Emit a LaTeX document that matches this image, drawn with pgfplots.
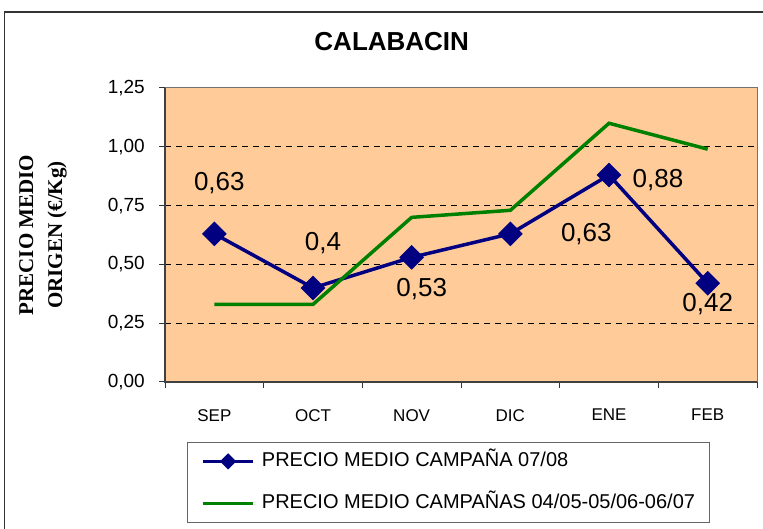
\documentclass[border=0pt]{standalone}
\usepackage{fontspec}
\setmainfont{Liberation Sans}
\newfontfamily\timesfont{Liberation Serif}
\usepackage{pgfplots}
\usepackage{pgfplotstable}
\pgfplotsset{compat=1.18}
\definecolor{navyb}{RGB}{0,0,128}
\definecolor{greenl}{RGB}{0,128,0}
\definecolor{plotbg}{RGB}{255,204,153}

\pgfplotstableread{
x y lbl dx dy
0 0.63 0,63 5 51
1 0.40 0,4 10 45
2 0.53 0,53 10 -32
3 0.63 0,63 76 0
4 0.88 0,88 49 -5
5 0.42 0,42 0 -21
}\bluedata

\pgfplotstableread{
x y
0 0.33
1 0.33
2 0.70
3 0.73
4 1.10
5 0.99
}\greendata

\begin{document}
\begin{tikzpicture}
\useasboundingbox (0pt,0pt) rectangle (763pt,529pt);
\draw[line width=1.5pt, black!80] (4.5pt,-10pt) -- (4.5pt,517pt) -- (780pt,517pt);
\begin{axis}[
  at={(165pt,147pt)}, anchor=south west,
  scale only axis, width=592pt, height=294pt,
  xmin=-0.5, xmax=5.5, ymin=0, ymax=1.25,
  axis background/.style={fill=plotbg},
  axis line style={draw=black!55, line width=1pt},
  tick align=outside,
  xtick pos=bottom, ytick pos=left,
  xtick={0,1,2,3,4,5},
  xticklabels={SEP,OCT,NOV,DIC,ENE,FEB},
  major x tick style={draw=none},
  minor xtick={-0.5,0.5,1.5,2.5,3.5,4.5,5.5},
  minor tick length=6pt,
  major tick length=6pt,
  minor x tick style={draw=black!80, line width=1pt},
  major y tick style={draw=black!80, line width=1pt},
  ytick={0,0.25,0.5,0.75,1,1.25},
  extra y ticks={0.25,0.5,0.75,1},
  extra y tick labels={},
  extra y tick style={grid=major, major grid style={draw=black, line width=0.9pt, dash pattern=on 6pt off 5pt}},
  /pgf/number format/assume math mode=true,
  yticklabel style={/pgf/number format/.cd, fixed, fixed zerofill, precision=2, use comma,
     /tikz/.cd, font=\fontsize{19}{21}\selectfont, inner sep=0pt, anchor=east, xshift=-14pt},
  xticklabel style={font=\fontsize{17}{19}\selectfont, inner sep=0pt, anchor=north, yshift=-21pt},
  title={CALABACIN},
  title style={at={(axis description cs:0.383,1.139)}, anchor=center, font=\bfseries\fontsize{26}{30}\selectfont},
  ylabel={PRECIO MEDIO\\ORIGEN (€/Kg)},
  ylabel style={at={(axis description cs:-0.206,0.5)}, anchor=center, align=center,
     font=\timesfont\bfseries\fontsize{21}{29}\selectfont},
  legend style={at={(axis description cs:0.0372,-0.2041)}, anchor=north west,
     draw=black!60, line width=0.8pt, fill=white,
     inner xsep=14pt, inner ysep=9.5pt, row sep=23pt, column sep=7pt,
     nodes={inner sep=0pt, text height=15pt, text depth=4pt},
     font=\fontsize{20}{24}\selectfont},
  legend cell align=left,
  legend image code/.code={\draw[mark repeat=2,mark phase=2,#1,mark size=4pt] plot coordinates {(0pt,0pt) (25pt,0pt) (50pt,0pt)};},
  clip=false,
  after end axis/.code={
    \draw[black!75, line width=1.6pt] (rel axis cs:0,1) -- (rel axis cs:0,0) -- (rel axis cs:1,0);
  },
]
\addplot[navyb, line width=3.5pt, mark=square*, mark size=7pt, mark options={rotate=45, solid},
  nodes near coords, point meta=explicit symbolic,
  visualization depends on={\thisrow{dx} \as \lblx},
  visualization depends on={\thisrow{dy} \as \lbly},
  every node near coord/.append style={anchor=center, xshift=\lblx pt, yshift=\lbly pt,
     text=black, inner sep=0pt, font=\fontsize{26}{28}\selectfont}]
  table[x=x, y=y, meta=lbl] {\bluedata};
\addlegendentry{PRECIO MEDIO CAMPAÑA 07/08}
\addplot[greenl, line width=3.5pt, mark=none] table[x=x, y=y] {\greendata};
\addlegendentry{PRECIO MEDIO CAMPAÑAS 04/05-05/06-06/07}
\end{axis}
\end{tikzpicture}
\end{document}
